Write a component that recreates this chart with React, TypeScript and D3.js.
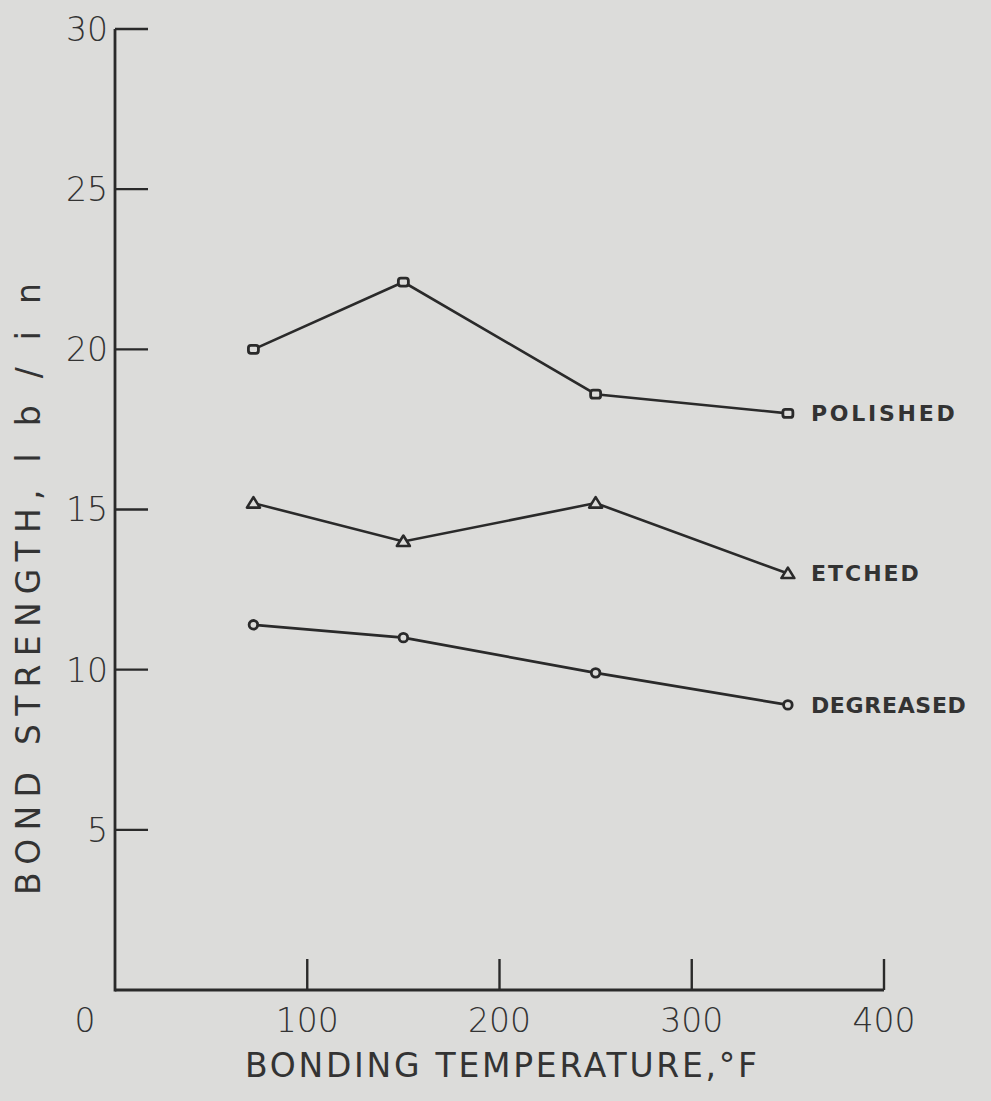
import React from "react";
import * as d3 from "d3";

const temps = [72, 150, 250, 350];
const polished = [20.0, 22.1, 18.6, 18.0];
const etched = [15.2, 14.0, 15.2, 13.0];
const degreased = [11.4, 11.0, 9.9, 8.9];
const seriesNames = ["POLISHED", "ETCHED", "DEGREASED"];
const xTicks = [100, 200, 300, 400];
const yTicks = [5, 10, 15, 20, 25, 30];

const W = 991;
const H = 1101;
const ink = "#2a2a2a";
const bg = "#dcdcda";

export default function App() {
  const x = d3.scaleLinear().domain([0, 400]).range([115, 884]);
  const y = d3.scaleLinear().domain([0, 30]).range([990, 29]);
  const line = d3
    .line<number>()
    .x((_, i) => x(temps[i]))
    .y((d) => y(d));

  const series = [
    { name: seriesNames[0], values: polished, marker: "square", lw: 144 },
    { name: seriesNames[1], values: etched, marker: "triangle", lw: 108 },
    { name: seriesNames[2], values: degreased, marker: "circle", lw: 155 },
  ];

  const marker = (type: string, cx: number, cy: number, key: string) => {
    if (type === "square")
      return (
        <rect key={key} x={cx - 5} y={cy - 4} width={10} height={8} rx={2.5}
          fill={bg} stroke={ink} strokeWidth={2.8} />
      );
    if (type === "triangle") {
      const p = d3.path();
      p.moveTo(cx, cy - 6);
      p.lineTo(cx + 6.5, cy + 4.5);
      p.lineTo(cx - 6.5, cy + 4.5);
      p.closePath();
      return <path key={key} d={p.toString()} fill={bg} stroke={ink} strokeWidth={2.6} strokeLinejoin="round" />;
    }
    return <circle key={key} cx={cx} cy={cy} r={4.3} fill={bg} stroke={ink} strokeWidth={2.8} />;
  };

  const font = "'DejaVu Sans', sans-serif";

  return (
    <svg width={W} height={H} style={{ position: "absolute", left: 0, top: 0, display: "block" }}
      viewBox={`0 0 ${W} ${H}`}>
      <rect x={0} y={0} width={W} height={H} fill={bg} />
      <line x1={x(0)} y1={y(30)} x2={x(0)} y2={y(0) + 1.5} stroke={ink} strokeWidth={2.8} />
      <line x1={x(0)} y1={y(0)} x2={x(400)} y2={y(0)} stroke={ink} strokeWidth={2.8} />
      {yTicks.map((t) => (
        <g key={"yt" + t}>
          <line x1={x(0)} x2={x(0) + 33} y1={y(t)} y2={y(t)} stroke={ink} strokeWidth={2.4} />
          <text x={108} y={y(t)} dy="0.36em" textAnchor="end" fontFamily={font} fontSize={33}
            fontWeight={300} fill="#333">{t}</text>
        </g>
      ))}
      {xTicks.map((t) => (
        <g key={"xt" + t}>
          <line x1={x(t)} x2={x(t)} y1={y(0)} y2={y(0) - 31} stroke={ink} strokeWidth={2.4} />
          <text x={x(t)} y={1020} dy="0.36em" textAnchor="middle" fontFamily={font} fontSize={33}
            fontWeight={300} fill="#333">{t}</text>
        </g>
      ))}
      <text x={85} y={1020} dy="0.36em" textAnchor="middle" fontFamily={font} fontSize={33}
        fontWeight={300} fill="#333">0</text>
      <text x={245} y={1077} fontFamily={font} fontSize={33} fill="#333"
        textLength={512} lengthAdjust="spacing">BONDING  TEMPERATURE,°F</text>
      <text transform="translate(40,895) rotate(-90)" x={0} y={0} fontFamily={font} fontSize={33} fill="#333"
        textLength={612} lengthAdjust="spacing">BOND  STRENGTH,  l b / i n</text>
      {series.map((s) => (
        <g key={s.name}>
          <path d={line(s.values) || ""} fill="none" stroke={ink} strokeWidth={2.6} />
          {s.values.map((v, i) => marker(s.marker, x(temps[i]), y(v), s.name + i))}
          <text x={x(temps[temps.length - 1]) + 23} y={y(s.values[s.values.length - 1])} dy="0.36em"
            fontFamily={font} fontSize={22} fontWeight={600} fill="#333"
            textLength={s.lw} lengthAdjust="spacing">{s.name}</text>
        </g>
      ))}
    </svg>
  );
}
